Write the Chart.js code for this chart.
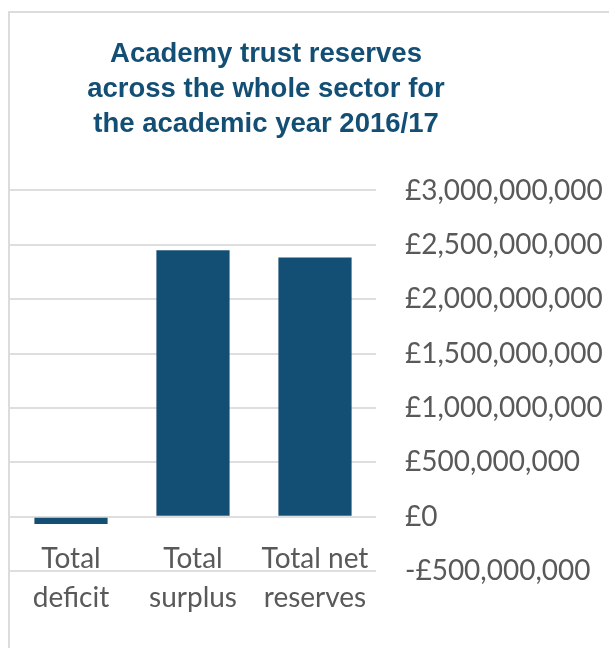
<!DOCTYPE html>
<html lang="en">
<head>
    <meta charset="UTF-8">
    <title>Academy trust reserves 2016/17</title>
    <script src="https://cdn.jsdelivr.net/npm/chart.js"></script>
    <style>
        body {
            margin: 0;
            padding: 0;
            background: #ffffff;
        }

        /* chart frame (left and top edges visible in the original) */
        .frame {
            position: absolute;
            left: 8px;
            top: 11px;
            width: 700px;
            height: 700px;
            border-left: 2px solid #dcdcdc;
            border-top: 2px solid #dcdcdc;
        }

        #reservesChart {
            position: absolute;
            left: 0;
            top: 0;
        }
    </style>
</head>
<body>

    <div class="frame"></div>
    <canvas id="reservesChart" width="609" height="648"></canvas>

    <script>
        // data
        const titleLines = ['Academy trust reserves', 'across the whole sector for', 'the academic year 2016/17'];
        const categories = [['Total', 'deficit'], ['Total', 'surplus'], ['Total net', 'reserves']];
        const reserves = [-67000000, 2451000000, 2384000000];
        const yMin = -500000000;
        const yMax = 3000000000;
        const yStep = 500000000;

        const navy = '#134f75';
        const grey = '#595959';

        function pounds(v) {
            const digits = String(Math.abs(v)).replace(/\B(?=(\d{3})+(?!\d))/g, ',');
            return (v < 0 ? '-£' : '£') + digits;
        }

        // the original title is centred a bit left of the page centre
        const titleShift = {
            id: 'titleShift',
            afterLayout(chart) {
                if (chart.titleBlock) {
                    chart.titleBlock.left = 10;
                    chart.titleBlock.right = 522;
                }
            }
        };

        const ctx = document.getElementById('reservesChart').getContext('2d');
        const chart = new Chart(ctx, {
            type: 'bar',
            data: {
                labels: categories,
                datasets: [{
                    data: reserves,
                    backgroundColor: navy,
                    borderWidth: 0,
                    barPercentage: 0.6,
                    categoryPercentage: 1.0
                }]
            },
            options: {
                responsive: false,
                animation: false,
                layout: {
                    padding: { left: 10, right: 0, top: 0, bottom: 77 }
                },
                plugins: {
                    legend: { display: false },
                    tooltip: { enabled: false },
                    title: {
                        display: true,
                        text: titleLines,
                        color: navy,
                        font: { family: "'Liberation Sans', Arial, sans-serif", size: 27.5, weight: 'bold', lineHeight: 1.27 },
                        padding: { top: 37, bottom: 48.7 }
                    }
                },
                scales: {
                    x: {
                        position: { y: 0 },
                        grid: { display: false },
                        border: { display: false },
                        ticks: {
                            color: grey,
                            padding: 14,
                            maxRotation: 0,
                            font: { family: 'Lato, sans-serif', size: 28, lineHeight: 1.42 }
                        }
                    },
                    y: {
                        position: 'right',
                        min: yMin,
                        max: yMax,
                        afterFit: function (scale) { scale.width = 233; },
                        grid: { color: '#dedede', lineWidth: 2, drawTicks: false },
                        border: { display: false },
                        ticks: {
                            stepSize: yStep,
                            padding: 29,
                            color: grey,
                            font: { family: 'Lato, sans-serif', size: 28 },
                            callback: function (value) { return pounds(value); }
                        }
                    }
                }
            },
            plugins: [titleShift]
        });
    </script>

</body>
</html>
